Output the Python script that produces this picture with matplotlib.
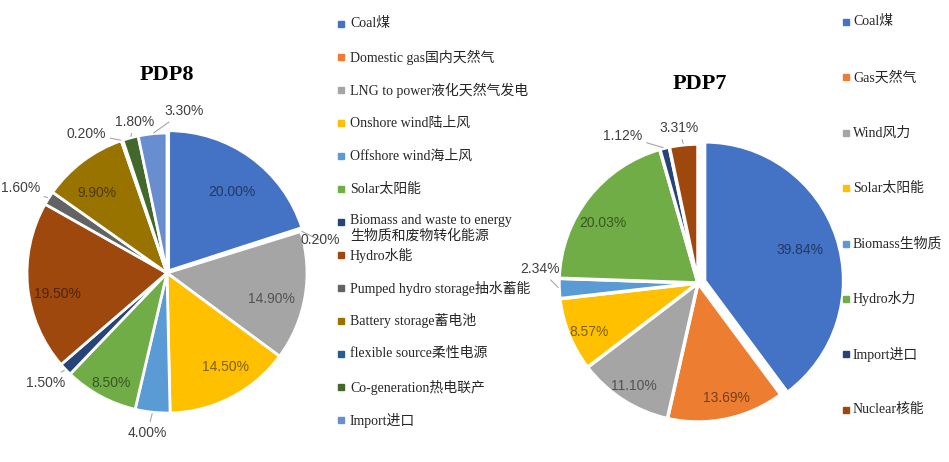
import numpy as np
import matplotlib.pyplot as plt
import matplotlib.colors as mcolors
from matplotlib.patches import Rectangle

# data
pdp8_labels = ['Coal煤', 'Domestic gas国内天然气', 'LNG to power液化天然气发电', 'Onshore wind陆上风',
               'Offshore wind海上风', 'Solar太阳能', 'Biomass and waste to energy\n生物质和废物转化能源',
               'Hydro水能', 'Pumped hydro storage抽水蓄能', 'Battery storage蓄电池',
               'flexible source柔性电源', 'Co-generation热电联产', 'Import进口']
pdp8_values = [20.00, 0.20, 14.90, 14.50, 4.00, 8.50, 1.50, 19.50, 1.60, 9.90, 0.20, 1.80, 3.30]
pdp8_colors = ['#4472C4', '#ED7D31', '#A5A5A5', '#FFC000', '#5B9BD5', '#70AD47', '#264478',
               '#9E480E', '#636363', '#997300', '#255E91', '#43682B', '#698ED0']

pdp7_labels = ['Coal煤', 'Gas天然气', 'Wind风力', 'Solar太阳能', 'Biomass生物质', 'Hydro水力', 'Import进口', 'Nuclear核能']
pdp7_values = [39.84, 13.69, 11.10, 8.57, 2.34, 20.03, 1.12, 3.31]
pdp7_colors = ['#4472C4', '#ED7D31', '#A5A5A5', '#FFC000', '#5B9BD5', '#70AD47', '#264478', '#9E480E']

# label placement (bearing clockwise from top in deg, distance in radii)
pdp8_lab_b = [39, 78, 104, 148, 187, 207, 228, 259, 300, 319, 330, 348, 6]
pdp8_lab_r = [0.74, 1.12, 0.77, 0.79, 1.15, 0.88, 1.17, 0.80, 1.21, 0.76, 1.15, 1.10, 1.16]
pdp7_lab_b = [72, 166, 212, 246, 275, 302, 333, 353]
pdp7_lab_r = [0.77, 0.85, 0.87, 0.86, 1.14, 0.81, 1.19, 1.12]

W, H = 949, 462
fig = plt.figure(figsize=(W / 100, H / 100), dpi=100)

serif = ['Liberation Serif', 'Noto Sans CJK SC']
sans = ['Liberation Sans', 'DejaVu Sans']


def darken(c, f=0.5):
    return tuple(np.array(mcolors.to_rgb(c)) * f)


def add_pie(cx, cy, r, vals, cols, explode, lab_b, lab_r, lw):
    ax = fig.add_axes([(cx - 1.3 * r) / W, (H - cy - 1.3 * r) / H, 2.6 * r / W, 2.6 * r / H])
    wedges, _ = ax.pie(vals, colors=cols, startangle=90, counterclock=False, explode=explode,
                       wedgeprops=dict(edgecolor='white', linewidth=lw))
    ax.set_xlim(-1.3, 1.3)
    ax.set_ylim(-1.3, 1.3)
    ax.axis('off')
    for w, v, c, b, rr in zip(wedges, vals, cols, lab_b, lab_r):
        br = np.radians(b)
        x, y = rr * np.sin(br), rr * np.cos(br)
        txt = f'{v:.2f}%'
        if rr < 1:
            ax.text(x, y, txt, color=darken(c), ha='center', va='center', fontsize=10, family=sans)
        else:
            mid = np.radians((w.theta1 + w.theta2) / 2)
            ex = w.center[0] + w.r * np.cos(mid)
            ey = w.center[1] + w.r * np.sin(mid)
            ax.annotate(txt, xy=(ex, ey), xytext=(x, y), ha='center', va='center', fontsize=10,
                        family=sans, color='#404040', annotation_clip=False,
                        arrowprops=dict(arrowstyle='-', color='#a6a6a6', lw=0.8, shrinkA=1, shrinkB=1))
    return ax


add_pie(167, 273, 140, pdp8_values, pdp8_colors, [0.02] + [0] * 12, pdp8_lab_b, pdp8_lab_r, 2)
add_pie(698, 283, 139, pdp7_values, pdp7_colors, [0.05] + [0] * 7, pdp7_lab_b, pdp7_lab_r, 2.5)

fig.text(167 / W, 1 - 75 / H, 'PDP8', ha='center', va='center', fontsize=16, fontweight='bold', family=serif)
fig.text(700 / W, 1 - 84 / H, 'PDP7', ha='center', va='center', fontsize=16, fontweight='bold', family=serif)


# legends
def add_legend(labels, cols, x_sq, x_txt, y0, step):
    for i, (lab, c) in enumerate(zip(labels, cols)):
        yc = y0 + i * step
        fig.add_artist(Rectangle((x_sq / W, 1 - (yc + 3) / H), 6 / W, 6 / H, color=c,
                                 transform=fig.transFigure))
        if '\n' in lab:
            fig.text(x_txt / W, 1 - (yc - 8) / H, lab, ha='left', va='top', fontsize=10,
                     family=serif, color='#262626', linespacing=1.15)
        else:
            fig.text(x_txt / W, 1 - yc / H, lab, ha='left', va='center', fontsize=10,
                     family=serif, color='#262626')


add_legend(pdp8_labels, pdp8_colors, 338, 350, 24, 33)
add_legend(pdp7_labels, pdp7_colors, 843, 853, 22, 55.4)

plt.savefig('out.png', dpi=100, facecolor='white')
